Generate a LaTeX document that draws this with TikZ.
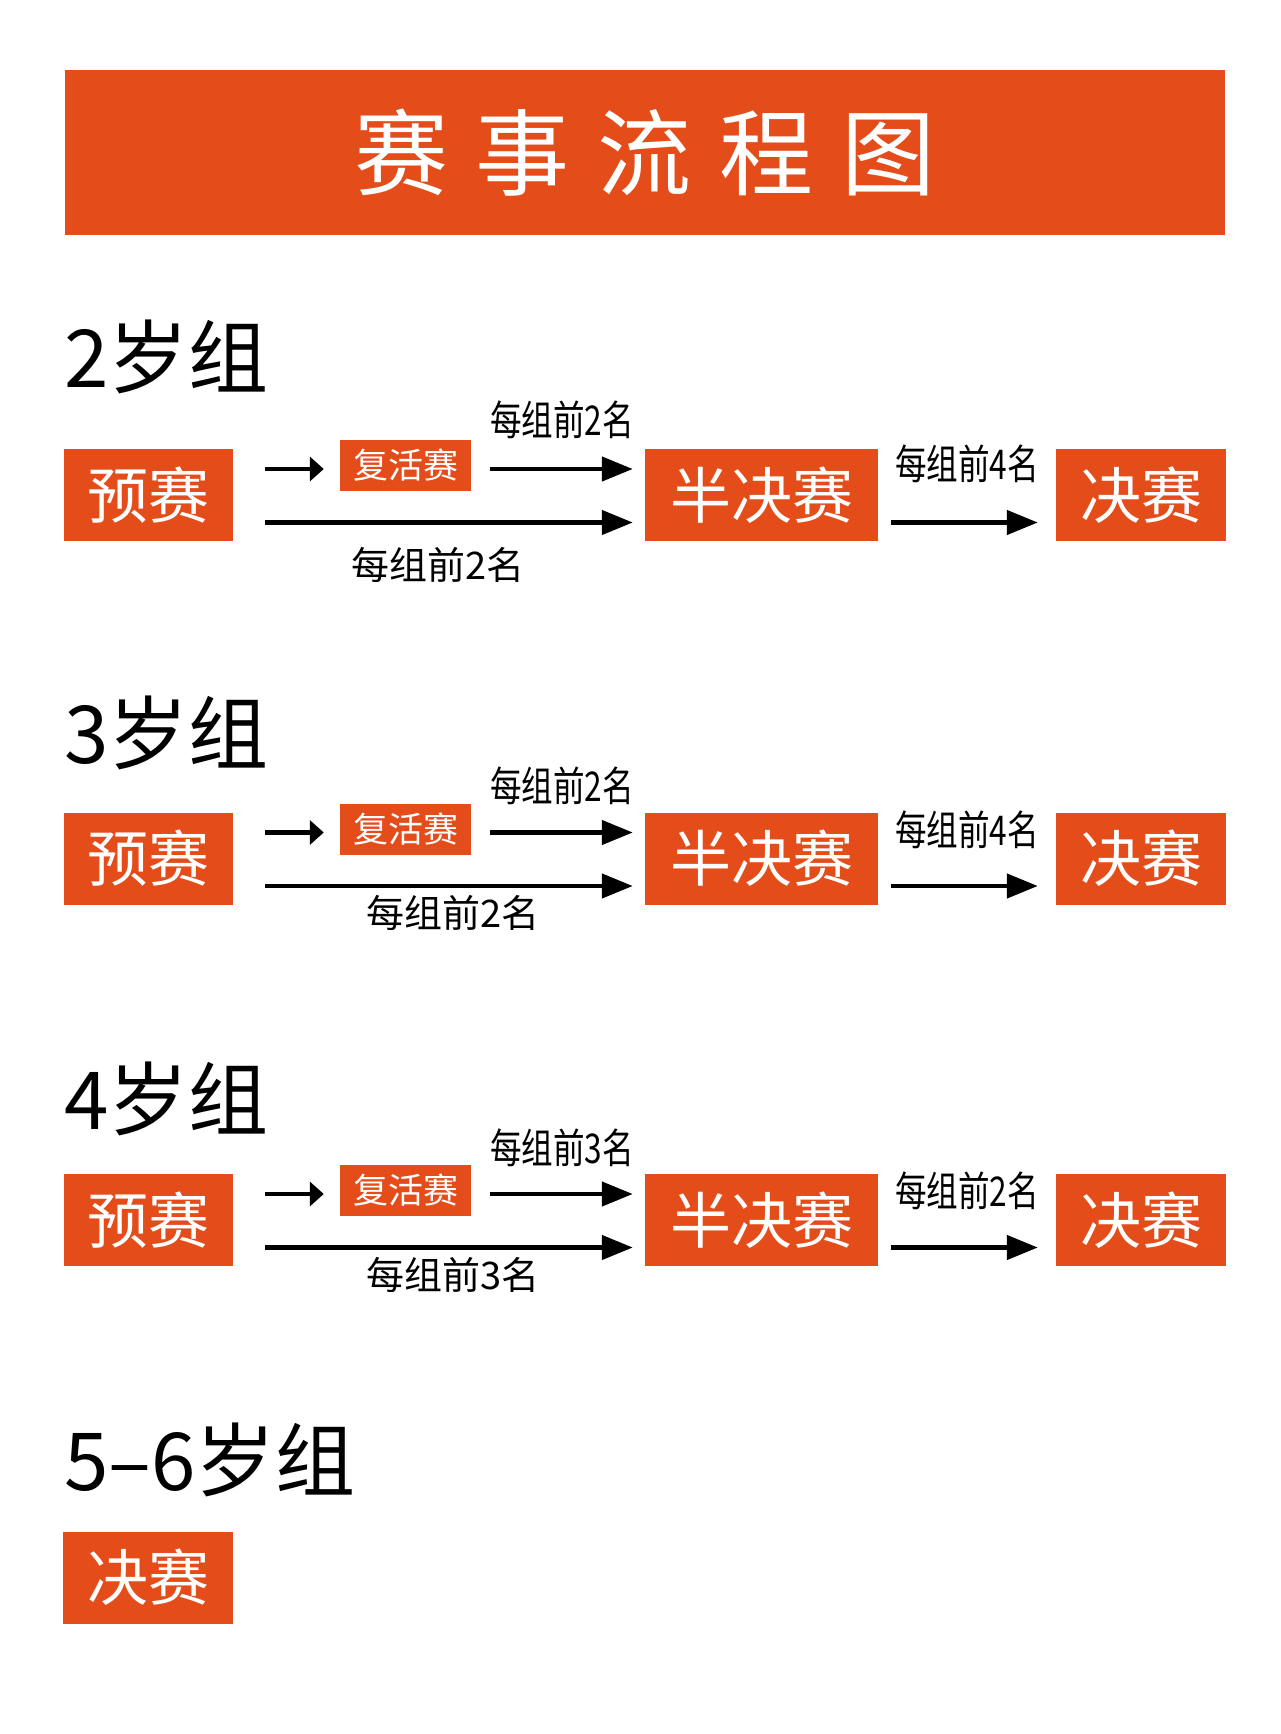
\documentclass[tikz,border=0pt]{standalone}
\usepackage{fontspec}
\setmainfont{Noto Sans CJK SC}
\newfontfamily\narrowcjk[FakeStretch=0.77]{Noto Sans CJK SC}
\usetikzlibrary{arrows.meta}
\definecolor{matchorange}{HTML}{E44C1A}

\tikzset{
  stagebox/.style={fill=matchorange, text=white, inner sep=0pt, minimum height=92pt, font=\fontsize{61}{61}\selectfont},
  revbox/.style={fill=matchorange, text=white, inner sep=0pt, minimum width=131pt, minimum height=51pt, font=\fontsize{35}{35}\selectfont},
  agehead/.style={anchor=base west, inner sep=0pt, font=\fontsize{80}{80}\selectfont},
  toplabel/.style={inner sep=0pt, font=\narrowcjk\fontsize{41}{41}\selectfont},
  botlabel/.style={inner sep=0pt, font=\fontsize{38}{38}\selectfont},
  flow/.style={line width=4.5pt, -{Triangle[length=31pt,width=24pt]}},
  shortflow/.style={line width=4.5pt, -{Triangle[length=14pt,width=24pt]}},
}

\begin{document}
\begin{tikzpicture}[x=1pt, y=-1pt]
\useasboundingbox (0,0) rectangle (1280,1734);

% Title bar
\node[fill=matchorange, text=white, inner sep=0pt, minimum width=1160pt, minimum height=165pt, font=\fontsize{94}{94}\selectfont] (title) at (645,152.5) {赛\hspace{28pt}事\hspace{28pt}流\hspace{28pt}程\hspace{28pt}图\hspace{54pt}};

% 2 years
\node[agehead] (head2) at (64,387) {2岁组};
\node[stagebox, minimum width=169pt] (pre2) at (148.5,495) {预赛};
\node[revbox] (rev2) at (405.5,465.5) {复活赛};
\node[stagebox, minimum width=233pt] (semi2) at (761.5,495) {半决赛};
\node[stagebox, minimum width=170pt] (fin2) at (1141,495) {决赛};

\draw[shortflow, shorten <=32pt, shorten >=16pt] ([yshift=-3.5pt]pre2.east |- rev2.west) -- ([yshift=-3.5pt]rev2.west);
\draw[flow, shorten <=19pt, shorten >=12pt] ([yshift=-3.5pt]rev2.east) -- ([yshift=-3.5pt]rev2.east -| semi2.west);
\draw[flow, shorten <=32pt, shorten >=12pt] ([yshift=-27.5pt]pre2.east) -- ([yshift=-27.5pt]semi2.west);
\draw[flow, shorten <=13pt, shorten >=18pt] ([yshift=-27.5pt]semi2.east) -- ([yshift=-27.5pt]fin2.west);

\node[toplabel] (up2) at (562,420) {每组前2名};
\node[botlabel] (low2) at (438,565) {每组前2名};
\node[toplabel] (adv2) at (967,464) {每组前4名};

% 3 years
\node[agehead] (head3) at (64,763) {3岁组};
\node[stagebox, minimum width=169pt] (pre3) at (148.5,858.5) {预赛};
\node[revbox] (rev3) at (405.5,829) {复活赛};
\node[stagebox, minimum width=233pt] (semi3) at (761.5,858.5) {半决赛};
\node[stagebox, minimum width=170pt] (fin3) at (1141,858.5) {决赛};

\draw[shortflow, shorten <=32pt, shorten >=16pt] ([yshift=-3.5pt]pre3.east |- rev3.west) -- ([yshift=-3.5pt]rev3.west);
\draw[flow, shorten <=19pt, shorten >=12pt] ([yshift=-3.5pt]rev3.east) -- ([yshift=-3.5pt]rev3.east -| semi3.west);
\draw[flow, shorten <=32pt, shorten >=12pt] ([yshift=-27.5pt]pre3.east) -- ([yshift=-27.5pt]semi3.west);
\draw[flow, shorten <=13pt, shorten >=18pt] ([yshift=-27.5pt]semi3.east) -- ([yshift=-27.5pt]fin3.west);

\node[toplabel] (up3) at (562,786) {每组前2名};
\node[botlabel] (low3) at (453,913) {每组前2名};
\node[toplabel] (adv3) at (967,830) {每组前4名};

% 4 years
\node[agehead] (head4) at (64,1129) {4岁组};
\node[stagebox, minimum width=169pt] (pre4) at (148.5,1220) {预赛};
\node[revbox] (rev4) at (405.5,1190.5) {复活赛};
\node[stagebox, minimum width=233pt] (semi4) at (761.5,1220) {半决赛};
\node[stagebox, minimum width=170pt] (fin4) at (1141,1220) {决赛};

\draw[shortflow, shorten <=32pt, shorten >=16pt] ([yshift=-3.5pt]pre4.east |- rev4.west) -- ([yshift=-3.5pt]rev4.west);
\draw[flow, shorten <=19pt, shorten >=12pt] ([yshift=-3.5pt]rev4.east) -- ([yshift=-3.5pt]rev4.east -| semi4.west);
\draw[flow, shorten <=32pt, shorten >=12pt] ([yshift=-27.5pt]pre4.east) -- ([yshift=-27.5pt]semi4.west);
\draw[flow, shorten <=13pt, shorten >=18pt] ([yshift=-27.5pt]semi4.east) -- ([yshift=-27.5pt]fin4.west);

\node[toplabel] (up4) at (562,1148) {每组前3名};
\node[botlabel] (low4) at (453,1275) {每组前3名};
\node[toplabel] (adv4) at (967,1191) {每组前2名};

% 5-6 years
\node[agehead] (head56) at (64,1490) {5–6岁组};
\node[stagebox, minimum width=170pt] (fin56) at (148,1577.5) {决赛};
\end{tikzpicture}
\end{document}
